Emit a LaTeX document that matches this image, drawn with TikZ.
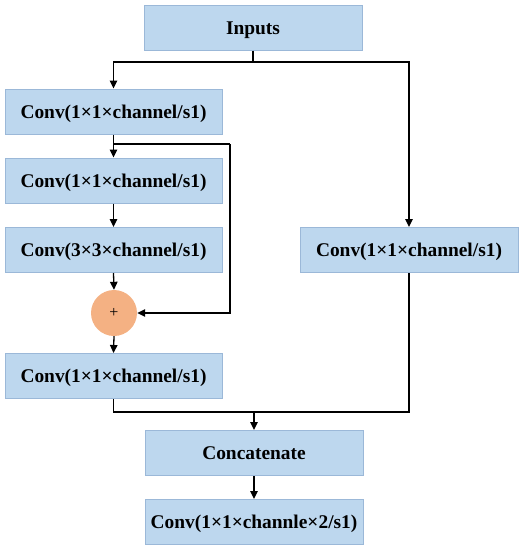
\documentclass[tikz,border=0pt]{standalone}
\usepackage{fontspec}
\setmainfont{Liberation Serif}
\usetikzlibrary{arrows.meta}
\definecolor{boxfill}{HTML}{BDD7EE}
\definecolor{boxline}{HTML}{9BB8D8}
\definecolor{plusfill}{HTML}{F4B183}
\tikzset{
  blk/.style={draw=boxline, line width=1pt, fill=boxfill, minimum width=217pt, minimum height=45pt, inner sep=0pt, text height=14pt, text depth=1pt, font=\fontsize{19.4}{22}\selectfont\bfseries},
  plusnode/.style={circle, fill=plusfill, draw=none, minimum size=46pt, inner sep=0pt, font=\fontsize{16}{18}\selectfont},
  arr/.style={line width=1.3pt, -{Triangle[length=8pt,width=7.5pt]}},
  ln/.style={line width=1.3pt}
}
\begin{document}
\begin{tikzpicture}[x=1pt,y=-1pt]
\useasboundingbox (0,0) rectangle (527,550);
\node[blk, minimum width=218pt] (in) at (253,27.5) {Inputs};
\node[blk] (c1) at (113.5,111.5) {Conv(1×1×channel/s1)};
\node[blk] (c2) at (113.5,180.5) {Conv(1×1×channel/s1)};
\node[blk] (c3) at (113.5,250) {Conv(3×3×channel/s1)};
\node[plusnode] (plus) at (114,313) {+};
\node[blk] (c4) at (113.5,376) {Conv(1×1×channel/s1)};
\node[blk, minimum width=218pt] (r) at (409,250) {Conv(1×1×channel/s1)};
\node[blk, minimum width=218pt] (cat) at (254,453) {Concatenate};
\node[blk, minimum width=218pt] (fin) at (254,522) {Conv(1×1×channle×2/s1)};
\coordinate (split) at (253,62);
\coordinate (sk) at (113.5,144);
\coordinate (skr) at (230,144);
\coordinate (mg) at (254,412);
\draw[ln] (in.south) -- (split);
\draw[arr] (split) -| (c1.north);
\draw[arr] (split) -| (r.north);
\draw[arr] (c1.south) -- (c2.north);
\draw[ln] (sk) -- (skr);
\draw[arr] (skr) |- (plus.east);
\draw[arr] (c2.south) -- (c3.north);
\draw[arr] (c3.south) -- (plus.north);
\draw[arr] (plus.south) -- (c4.north);
\draw[ln] (c4.south) |- (mg);
\draw[ln] (r.south) |- (mg);
\draw[arr] (mg) -- (cat.north);
\draw[arr] (cat.south) -- (fin.north);
\end{tikzpicture}
\end{document}
